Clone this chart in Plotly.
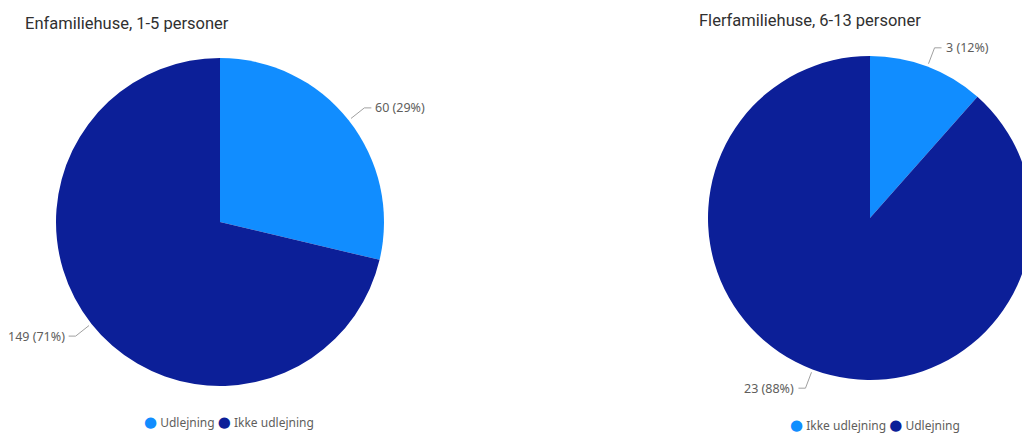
import math
import plotly.graph_objects as go

# Data
left_title = "Enfamiliehuse, 1-5 personer"
left_labels = ["Udlejning", "Ikke udlejning"]
left_values = [60, 149]

right_title = "Flerfamiliehuse, 6-13 personer"
right_labels = ["Ikke udlejning", "Udlejning"]
right_values = [3, 23]

LIGHT = "#118DFF"
DARK = "#0C1F98"
slice_colors = [LIGHT, DARK]

W, H = 1032, 433
FONT = "Segoe UI, Noto Sans, DejaVu Sans, sans-serif"
TITLE_FONT = "Roboto, Noto Sans, sans-serif"


def px(x):
    return x / W


def py(y):
    return 1 - y / H


# Pie geometry (pixels): centre and radius
pies = [
    dict(title=left_title, labels=left_labels, values=left_values,
         cx=220, cy=222, r=164, title_xy=(23, 23), legend_y=421, legend_x=229),
    dict(title=right_title, labels=right_labels, values=right_values,
         cx=870, cy=218, r=162, title_xy=(697, 21), legend_y=424, legend_x=875),
]

fig = go.Figure()
annotations = []
shapes = []

for p in pies:
    cx, cy, r = p["cx"], p["cy"], p["r"]
    fig.add_trace(go.Pie(
        labels=p["labels"], values=p["values"],
        sort=False, direction="clockwise", rotation=0,
        marker=dict(colors=slice_colors, line=dict(width=0)),
        textinfo="none", hoverinfo="label+value+percent",
        showlegend=False,
        domain=dict(x=[px(cx - r), min(1, px(cx + r))], y=[py(cy + r), py(cy - r)]),
    ))

    total = sum(p["values"])
    cum = 0
    for v in p["values"]:
        frac = v / total
        mid = (cum + frac / 2) * 2 * math.pi
        cum += frac
        sx, sy = math.sin(mid), -math.cos(mid)
        x0, y0 = cx + (r + 3) * sx, cy + (r + 3) * sy
        x1, y1 = cx + (r + 20) * sx, cy + (r + 20) * sy
        side = 1 if sx >= 0 else -1
        x2 = x1 + 7 * side
        shapes.append(dict(
            type="path", xref="paper", yref="paper",
            path=f"M {px(x0)},{py(y0)} L {px(x1)},{py(y1)} L {px(x2)},{py(y1)}",
            line=dict(color="#A0A0A0", width=1),
        ))
        annotations.append(dict(
            x=px(x2 + 2 * side), y=py(y1), xref="paper", yref="paper",
            text=f"{v} ({round(frac * 100)}%)", showarrow=False,
            xanchor="left" if side > 0 else "right", yanchor="middle",
            font=dict(family=FONT, size=12.5, color="#605E5C"),
        ))

    tx, ty = p["title_xy"]
    annotations.append(dict(
        x=px(tx), y=py(ty), xref="paper", yref="paper", text=p["title"],
        showarrow=False, xanchor="left", yanchor="middle",
        font=dict(family=TITLE_FONT, size=16.5, color="#303030"),
    ))

    legend_text = " ".join(
        f"<span style='color:{c};font-size:15px'>●</span> {lab}"
        for c, lab in zip(slice_colors, p["labels"])
    )
    annotations.append(dict(
        x=px(p["legend_x"]), y=py(p["legend_y"]), xref="paper", yref="paper",
        text=legend_text, showarrow=False, xanchor="center", yanchor="middle",
        font=dict(family=FONT, size=12, color="#605E5C"),
    ))

fig.update_layout(
    width=W, height=H,
    margin=dict(l=0, r=0, t=0, b=0),
    paper_bgcolor="white", plot_bgcolor="white",
    annotations=annotations, shapes=shapes,
)

fig.write_html("out.html")
